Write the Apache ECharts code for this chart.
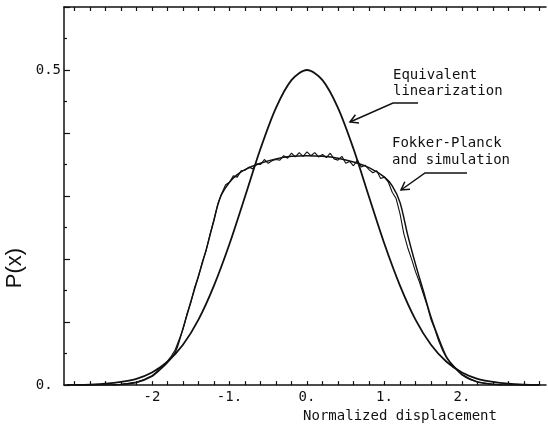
<!DOCTYPE html>
<html>
<head>
<meta charset="utf-8">
<script src="https://cdn.jsdelivr.net/npm/echarts@6/dist/echarts.min.js"></script>
<style>
html,body{margin:0;padding:0;background:#fff;}
#chart{width:548px;height:428px;}
</style>
</head>
<body>
<div id="chart"></div>
<script>
// ---- data ----
var xTickValues = [-2, -1, 0, 1, 2];
var xTickLabels = ['-2', '-1.', '0.', '1.', '2.'];
var xMinorTicks = [-3.0,-2.8,-2.6,-2.4,-2.2,-2.0,-1.8,-1.6,-1.4,-1.2,-1.0,-0.8,-0.6,-0.4,-0.2,0,0.2,0.4,0.6,0.8,1.0,1.2,1.4,1.6,1.8,2.0,2.2,2.4,2.6,2.8,3.0];
var yTickValues = [0, 0.5];
var yTickLabels = ['0. ', '0.5'];

// Equivalent linearization
var linX = [-3.1,-3.0,-2.8,-2.6,-2.4,-2.2,-2.0,-1.8,-1.6,-1.4,-1.2,-1.0,-0.8,-0.6,-0.4,-0.2,0,0.2,0.4,0.6,0.8,1.0,1.2,1.4,1.6,1.8,2.0,2.2,2.4,2.6,2.8,3.0];
var linY = [0.0002,0.0003,0.0009,0.0022,0.005,0.010,0.020,0.037,0.064,0.104,0.158,0.224,0.299,0.375,0.440,0.484,0.500,0.484,0.440,0.375,0.299,0.224,0.158,0.104,0.064,0.037,0.020,0.010,0.005,0.0022,0.0009,0.0003];

// Fokker-Planck (smooth)
var fpX = [-3.0,-2.6,-2.4,-2.2,-2.0,-1.9,-1.8,-1.7,-1.6,-1.5,-1.4,-1.3,-1.2,-1.15,-1.1,-1.0,-0.9,-0.8,-0.6,-0.4,-0.2,0,0.2,0.4,0.6,0.8,1.0,1.1,1.2,1.3,1.4,1.5,1.6,1.7,1.8,1.9,2.0,2.2,2.4,2.6,3.0];
var fpY = [0,0.0003,0.001,0.004,0.014,0.024,0.036,0.052,0.090,0.132,0.173,0.215,0.262,0.286,0.303,0.322,0.334,0.342,0.352,0.359,0.363,0.364,0.363,0.360,0.354,0.345,0.330,0.316,0.290,0.238,0.192,0.150,0.108,0.074,0.045,0.029,0.017,0.005,0.0015,0.0003,0];

// Simulation (noisy)
var simX = [-2.50,-2.45,-2.40,-2.35,-2.30,-2.25,-2.20,-2.15,-2.10,-2.05,-2.00,-1.95,-1.90,-1.85,-1.80,-1.75,-1.70,-1.65,-1.60,-1.55,-1.50,-1.45,-1.40,-1.35,-1.30,-1.25,-1.20,-1.15,-1.10,-1.05,-1.00,-0.95,-0.90,-0.85,-0.80,-0.75,-0.70,-0.65,-0.60,-0.55,-0.50,-0.45,-0.40,-0.35,-0.30,-0.25,-0.20,-0.15,-0.10,-0.05,0.00,0.05,0.10,0.15,0.20,0.25,0.30,0.35,0.40,0.45,0.50,0.55,0.60,0.65,0.70,0.75,0.80,0.85,0.90,0.95,1.00,1.05,1.10,1.15,1.20,1.25,1.30,1.35,1.40,1.45,1.50,1.55,1.60,1.65,1.70,1.75,1.80,1.85,1.90,1.95,2.00,2.05,2.10,2.15,2.20,2.25,2.30,2.35,2.40,2.45,2.50];
var simY = [0.000,0.001,0.001,0.002,0.003,0.004,0.005,0.007,0.009,0.012,0.015,0.020,0.026,0.032,0.038,0.046,0.056,0.072,0.088,0.112,0.130,0.155,0.172,0.196,0.214,0.240,0.262,0.288,0.304,0.318,0.322,0.332,0.330,0.340,0.341,0.346,0.343,0.351,0.350,0.358,0.352,0.356,0.358,0.357,0.364,0.360,0.368,0.362,0.369,0.363,0.370,0.364,0.369,0.362,0.366,0.361,0.368,0.359,0.357,0.363,0.352,0.355,0.348,0.357,0.346,0.349,0.342,0.337,0.340,0.328,0.330,0.322,0.306,0.296,0.272,0.240,0.218,0.200,0.180,0.164,0.145,0.126,0.104,0.088,0.070,0.055,0.043,0.035,0.028,0.022,0.016,0.012,0.009,0.007,0.005,0.004,0.003,0.002,0.001,0.001,0.000];

function pairs(xs, ys) { return xs.map(function (x, i) { return [x, ys[i]]; }); }

var mono = '"DejaVu Sans Mono", "Liberation Mono", monospace';
var ink = '#111';
var xMin = -3.135, xMax = 3.084;

var chart = echarts.init(document.getElementById('chart'), null, { renderer: 'canvas' });
chart.setOption({
  animation: false,
  backgroundColor: '#fff',
  grid: { left: 64, right: 2, top: 7, bottom: 39, containLabel: false },
  xAxis: [{
    type: 'value', min: xMin, max: xMax, position: 'bottom',
    name: 'Normalized displacement', nameLocation: 'middle', nameGap: 17,
    nameTextStyle: { fontFamily: mono, fontSize: 14, color: ink, padding: [0, 0, 0, 190] },
    axisLine: { show: true, onZero: false, lineStyle: { color: ink, width: 1.5 } },
    axisTick: { show: true, inside: true, length: 4, customValues: xMinorTicks, lineStyle: { color: ink, width: 1.2 } },
    axisLabel: {
      show: true, customValues: xTickValues, margin: 5,
      fontFamily: mono, fontSize: 14, color: ink,
      formatter: function (v) { var i = xTickValues.indexOf(Math.round(v * 100) / 100); return i >= 0 ? xTickLabels[i] : ''; }
    },
    splitLine: { show: false }
  }, {
    type: 'value', min: xMin, max: xMax, position: 'top',
    axisLine: { show: true, onZero: false, lineStyle: { color: ink, width: 1.5 } },
    axisTick: { show: true, inside: true, length: 4, customValues: xMinorTicks, lineStyle: { color: ink, width: 1.2 } },
    axisLabel: { show: false },
    splitLine: { show: false }
  }],
  yAxis: [{
    type: 'value', min: 0, max: 0.6, interval: 0.1,
    axisLine: { show: true, onZero: false, lineStyle: { color: ink, width: 1.5 } },
    axisTick: { show: true, inside: true, length: 6, lineStyle: { color: ink, width: 1.2 } },
    minorTick: { show: true, splitNumber: 2, length: 3, lineStyle: { color: ink, width: 1.2 } },
    axisLabel: {
      show: true, customValues: yTickValues, margin: 3,
      fontFamily: mono, fontSize: 14, color: ink, verticalAlign: 'middle', padding: [0, 0, 5, 0],
      formatter: function (v) { var i = yTickValues.indexOf(Math.round(v * 100) / 100); return i >= 0 ? yTickLabels[i] : ''; }
    },
    splitLine: { show: false },
    minorSplitLine: { show: false }
  }],
  series: [{
    name: 'Equivalent linearization', type: 'line', smooth: 0.3, showSymbol: false,
    data: pairs(linX, linY), lineStyle: { color: ink, width: 1.8 }
  }, {
    name: 'Fokker-Planck', type: 'line', smooth: 0.3, showSymbol: false,
    data: pairs(fpX, fpY), lineStyle: { color: ink, width: 1.5 }
  }, {
    name: 'Simulation', type: 'line', smooth: false, showSymbol: false,
    data: pairs(simX, simY), lineStyle: { color: ink, width: 1.1 }
  }],
  graphic: [
    { type: 'text', x: 15, y: 268, rotation: Math.PI / 2,
      style: { text: 'P(x)', font: '22px "Liberation Sans", Arial, sans-serif', fill: ink, textAlign: 'center', textVerticalAlign: 'middle' } },
    { type: 'text', x: 393, y: 75, style: { text: 'Equivalent', font: '14px ' + mono, fill: ink, textVerticalAlign: 'middle' } },
    { type: 'text', x: 393, y: 91, style: { text: 'linearization', font: '14px ' + mono, fill: ink, textVerticalAlign: 'middle' } },
    { type: 'text', x: 392, y: 143, style: { text: 'Fokker-Planck', font: '14px ' + mono, fill: ink, textVerticalAlign: 'middle' } },
    { type: 'text', x: 392, y: 160, style: { text: 'and simulation', font: '14px ' + mono, fill: ink, textVerticalAlign: 'middle' } },
    { type: 'polyline', shape: { points: [[418, 103], [393, 103], [350, 122]] }, style: { stroke: ink, lineWidth: 1.5, fill: null } },
    { type: 'polyline', shape: { points: [[359, 123], [350, 122], [355.4, 114.8]] }, style: { stroke: ink, lineWidth: 1.5, fill: null } },
    { type: 'polyline', shape: { points: [[467, 173], [425, 173], [401, 190]] }, style: { stroke: ink, lineWidth: 1.5, fill: null } },
    { type: 'polyline', shape: { points: [[410, 189.2], [401, 190], [404.8, 181.8]] }, style: { stroke: ink, lineWidth: 1.5, fill: null } }
  ]
});
</script>
</body>
</html>
